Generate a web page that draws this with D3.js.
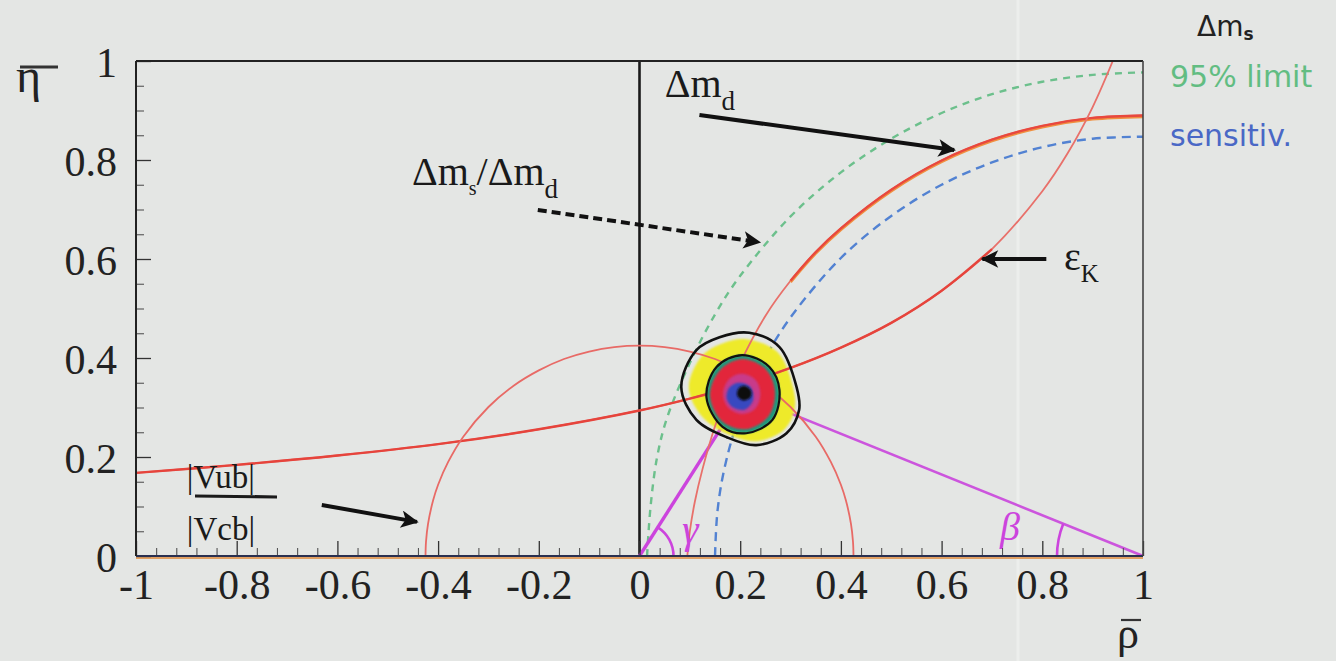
<!DOCTYPE html>
<html><head><meta charset="utf-8">
<script src="https://cdn.jsdelivr.net/npm/d3@7"></script>
<style>
html,body{margin:0;padding:0;background:#e4e6e4;}
svg{display:block;}
</style></head><body>
<svg id="chart" width="1336" height="661"></svg>
<script>
// ---------------- data (rho-bar, eta-bar) ----------------
const xTickValues = [-1, -0.8, -0.6, -0.4, -0.2, 0, 0.2, 0.4, 0.6, 0.8, 1];
const xTickLabels = ["-1", "-0.8", "-0.6", "-0.4", "-0.2", "0", "0.2", "0.4", "0.6", "0.8", "1"];
const yTickValues = [0, 0.2, 0.4, 0.6, 0.8, 1];
const yTickLabels = ["0", "0.2", "0.4", "0.6", "0.8", "1"];

// |Vub|/|Vcb| constraint: circle about the origin
const vubVcb = [[-0.425,0],[-0.424,0.029],[-0.42,0.065],[-0.41,0.112],[-0.40,0.144],[-0.38,0.190],
  [-0.35,0.241],[-0.30,0.301],[-0.25,0.344],[-0.20,0.375],[-0.15,0.398],[-0.10,0.413],[-0.05,0.422],
  [0,0.425],[0.05,0.422],[0.10,0.413],[0.15,0.398],[0.20,0.375],[0.25,0.344],[0.30,0.301],[0.35,0.241],
  [0.38,0.190],[0.40,0.144],[0.41,0.112],[0.42,0.065],[0.424,0.029],[0.425,0]];

// Delta m_d constraint: circle about (1,0)
const deltaMd = [[0.095,0],[0.10,0.05],[0.11,0.11],[0.125,0.175],[0.15,0.262],[0.175,0.33],[0.20,0.39],
  [0.25,0.485],[0.30,0.556],[0.35,0.614],[0.40,0.662],[0.50,0.740],[0.60,0.799],[0.70,0.841],
  [0.80,0.869],[0.90,0.885],[1.00,0.89]];

// epsilon_K constraint: hyperbola
const epsilonK = [[-1,0.168],[-0.8,0.184],[-0.6,0.203],[-0.4,0.226],[-0.2,0.256],[0,0.294],[0.1,0.318],
  [0.2,0.346],[0.3,0.380],[0.4,0.421],[0.5,0.471],[0.6,0.536],[0.7,0.620],[0.8,0.737],[0.85,0.813],
  [0.9,0.907],[0.94,1.0]];

// Delta m_s / Delta m_d : 95% limit and sensitivity
const deltaMsLimit = [[0.015,0],[0.022,0.10],[0.035,0.20],[0.055,0.28],[0.10,0.39],[0.15,0.488],
  [0.20,0.566],[0.30,0.686],[0.40,0.775],[0.50,0.843],[0.60,0.895],[0.70,0.933],[0.80,0.958],
  [0.90,0.972],[1.00,0.977]];
const deltaMsSensitivity = [[0.15,0],[0.155,0.092],[0.17,0.183],[0.20,0.287],[0.25,0.400],[0.30,0.482],
  [0.40,0.602],[0.50,0.687],[0.60,0.750],[0.70,0.795],[0.80,0.826],[0.90,0.843],[1.00,0.847]];

// unitarity triangle
const triangle = [[0,0],[0.205,0.327],[1,0]];

// probability contours of the fit (outer and inner)
const contourOuter = [[0.218,0.451],[0.278,0.422],[0.312,0.341],[0.317,0.295],[0.292,0.248],[0.232,0.224],
  [0.173,0.240],[0.113,0.275],[0.083,0.341],[0.113,0.416],[0.159,0.442]];
const contourInner = [[0.204,0.406],[0.258,0.382],[0.278,0.335],[0.264,0.275],[0.212,0.248],[0.165,0.261],
  [0.133,0.321],[0.153,0.382]];

// density levels (outermost to core)
const levelYellow = [[0.212,0.438],[0.274,0.412],[0.305,0.340],[0.308,0.296],[0.286,0.254],[0.232,0.232],
  [0.176,0.246],[0.124,0.282],[0.098,0.340],[0.124,0.404],[0.166,0.430]];
const levelRed = [[0.205,0.398],[0.252,0.376],[0.269,0.332],[0.256,0.282],[0.210,0.256],[0.164,0.272],
  [0.140,0.324],[0.160,0.376]];
const levelMagenta = [[0.202,0.368],[0.230,0.356],[0.240,0.328],[0.230,0.298],[0.204,0.287],[0.177,0.299],
  [0.166,0.327],[0.177,0.356]];
const levelBlue = [[0.196,0.350],[0.220,0.342],[0.226,0.316],[0.210,0.296],[0.186,0.300],[0.173,0.318],
  [0.178,0.340]];
const levelCore = [[0.208,0.344],[0.222,0.334],[0.220,0.320],[0.206,0.314],[0.194,0.324],[0.197,0.339]];

// annotation arrows: [from, to]
const arrowDmd = [[0.119,0.891],[0.625,0.820]];
const arrowRatio = [[-0.202,0.699],[0.238,0.634]];
const arrowEps = [[0.808,0.600],[0.681,0.600]];
const arrowVub = [[-0.631,0.103],[-0.442,0.069]];

// ---------------- drawing ----------------
const svg = d3.select("#chart");
const W = 1336, H = 661;
const x = d3.scaleLinear().domain([-1, 1]).range([136, 1143]);
const y = d3.scaleLinear().domain([0, 1]).range([556, 61]);
const serif = "'Liberation Serif','Times New Roman',serif";
const sans = "'DejaVu Sans',sans-serif";

svg.append("rect").attr("width", W).attr("height", H).attr("fill", "#e4e6e4");
// faint scanner streak
svg.append("line").attr("x1", 1018).attr("x2", 1018).attr("y1", 0).attr("y2", H)
  .attr("stroke", "#eceeec").attr("stroke-width", 3);

const defs = svg.append("defs");
defs.append("clipPath").attr("id", "plotclip").append("rect")
  .attr("x", x(-1)).attr("y", y(1)).attr("width", x(1) - x(-1)).attr("height", y(0) - y(1));
defs.append("marker").attr("id", "head").attr("viewBox", "0 0 10 10")
  .attr("refX", 9).attr("refY", 5).attr("markerWidth", 5.5).attr("markerHeight", 4.4)
  .attr("orient", "auto").append("path").attr("d", "M0,0 L10,5 L0,10 L2.5,5 z").attr("fill", "#111");
const soft = defs.append("filter").attr("id", "soft");
soft.append("feGaussianBlur").attr("stdDeviation", 1.3);

const line = d3.line().x(d => x(d[0])).y(d => y(d[1])).curve(d3.curveCatmullRom.alpha(0.5));
const closed = d3.line().x(d => x(d[0])).y(d => y(d[1])).curve(d3.curveCatmullRomClosed.alpha(0.5));

const plot = svg.append("g").attr("clip-path", "url(#plotclip)");

// rho = 0 line
plot.append("line").attr("x1", x(0)).attr("x2", x(0)).attr("y1", y(0)).attr("y2", y(1))
  .attr("stroke", "#1a1a1a").attr("stroke-width", 2.6);

// dashed Delta m_s curves
plot.append("path").datum(deltaMsLimit).attr("d", line).attr("fill", "none")
  .attr("stroke", "#6cc08c").attr("stroke-width", 2.4).attr("stroke-dasharray", "7,6");
plot.append("path").datum(deltaMsSensitivity).attr("d", line).attr("fill", "none")
  .attr("stroke", "#5282d2").attr("stroke-width", 2.4).attr("stroke-dasharray", "9,6");

// unitarity triangle sides
plot.append("line").attr("x1", x(triangle[0][0])).attr("y1", y(triangle[0][1]))
  .attr("x2", x(triangle[1][0])).attr("y2", y(triangle[1][1]))
  .attr("stroke", "#cc44dd").attr("stroke-width", 3.4);
plot.append("line").attr("x1", x(triangle[1][0])).attr("y1", y(triangle[1][1]))
  .attr("x2", x(triangle[2][0])).attr("y2", y(triangle[2][1]))
  .attr("stroke", "#cc55dd").attr("stroke-width", 2.6);

// yellow outer level
plot.append("path").datum(levelYellow).attr("d", closed).attr("fill", "#eeea2a").attr("filter", "url(#soft)");

// red constraint curves: thin full curves, heavier where the band is drawn bold
plot.append("path").datum(deltaMd).attr("d", line).attr("fill", "none")
  .attr("stroke", "#e8706a").attr("stroke-width", 1.8);
const dmdBold = deltaMd.filter(d => d[0] >= 0.3);
plot.append("path").datum(dmdBold).attr("d", line).attr("fill", "none")
  .attr("stroke", "#f09040").attr("stroke-width", 3).attr("transform", "translate(0,1.2)");
plot.append("path").datum(dmdBold).attr("d", line).attr("fill", "none")
  .attr("stroke", "#e8483e").attr("stroke-width", 2.4);
plot.append("path").datum(epsilonK).attr("d", line).attr("fill", "none")
  .attr("stroke", "#e8706a").attr("stroke-width", 1.8);
plot.append("path").datum(epsilonK.filter(d => d[0] <= 0.7)).attr("d", line).attr("fill", "none")
  .attr("stroke", "#e6443c").attr("stroke-width", 2.4);
plot.append("path").datum(vubVcb).attr("d", line).attr("fill", "none")
  .attr("stroke", "#e86a66").attr("stroke-width", 1.8);

// inner density levels
plot.append("path").datum(contourInner).attr("d", closed).attr("fill", "#1f9a7e").attr("filter", "url(#soft)");
plot.append("path").datum(levelRed).attr("d", closed).attr("fill", "#e2283a").attr("filter", "url(#soft)");
plot.append("path").datum(levelMagenta).attr("d", closed).attr("fill", "#c83a8a").attr("filter", "url(#soft)");
plot.append("path").datum(levelBlue).attr("d", closed).attr("fill", "#3848c0").attr("filter", "url(#soft)");
plot.append("path").datum(levelCore).attr("d", closed).attr("fill", "#111").attr("filter", "url(#soft)");

// contour lines
plot.append("path").datum(contourOuter).attr("d", closed).attr("fill", "none")
  .attr("stroke", "#111").attr("stroke-width", 2.6);
plot.append("path").datum(contourInner).attr("d", closed).attr("fill", "none")
  .attr("stroke", "#111").attr("stroke-width", 2.2);

// angle marks gamma and beta
const ox = x(triangle[0][0]), oy = y(triangle[0][1]);
const gammaAng = Math.atan2(oy - y(triangle[1][1]), x(triangle[1][0]) - ox);
svg.append("path").attr("transform", `translate(${ox},${oy})`)
  .attr("d", d3.arc()({innerRadius: 34, outerRadius: 34, startAngle: Math.PI / 2 - gammaAng, endAngle: Math.PI / 2}))
  .attr("fill", "none").attr("stroke", "#cc44dd").attr("stroke-width", 2.6);
const bx = x(triangle[2][0]), by = y(triangle[2][1]);
const betaAng = Math.atan2(by - y(triangle[1][1]), bx - x(triangle[1][0]));
svg.append("path").attr("transform", `translate(${bx},${by})`)
  .attr("d", d3.arc()({innerRadius: 86, outerRadius: 86, startAngle: -Math.PI / 2, endAngle: -Math.PI / 2 + betaAng}))
  .attr("fill", "none").attr("stroke", "#cc44dd").attr("stroke-width", 2.6);
svg.append("text").attr("x", 682).attr("y", 543).attr("font-family", serif).attr("font-style", "italic")
  .attr("font-size", 42).attr("fill", "#cc44dd").text("γ");
svg.append("text").attr("x", 1000).attr("y", 540).attr("font-family", serif).attr("font-style", "italic")
  .attr("font-size", 40).attr("fill", "#cc44dd").text("β");

// axis base line along eta = 0
svg.append("line").attr("x1", x(-1)).attr("x2", x(1)).attr("y1", y(0) + 2).attr("y2", y(0) + 2)
  .attr("stroke", "#e08838").attr("stroke-width", 1.6);

// axes
const xMinor = d3.range(-1, 1.0001, 0.04).filter(v => Math.abs(v * 5 - Math.round(v * 5)) > 1e-6);
const yMinor = d3.range(0, 1.0001, 0.05).filter(v => Math.abs(v * 5 - Math.round(v * 5)) > 1e-6);

const gx = svg.append("g").attr("transform", `translate(0,${y(0)})`)
  .call(d3.axisBottom(x).tickValues(xTickValues).tickSize(-15).tickPadding(13)
    .tickFormat((d, i) => xTickLabels[i]));
gx.select(".domain").remove();
gx.selectAll("text").attr("font-family", serif).attr("font-size", 42).attr("fill", "#222");
gx.selectAll("line").attr("stroke", "#333").attr("stroke-width", 1.3);
const gxm = svg.append("g").attr("transform", `translate(0,${y(0)})`)
  .call(d3.axisBottom(x).tickValues(xMinor).tickSize(-8).tickFormat(""));
gxm.select(".domain").remove();
gxm.selectAll("line").attr("stroke", "#555").attr("stroke-width", 1.1);

const gy = svg.append("g").attr("transform", `translate(${x(-1)},0)`)
  .call(d3.axisLeft(y).tickValues(yTickValues).tickSize(-15).tickPadding(19)
    .tickFormat((d, i) => yTickLabels[i]));
gy.select(".domain").remove();
gy.selectAll("text").attr("font-family", serif).attr("font-size", 42).attr("fill", "#222").attr("dy", "0.36em");
gy.selectAll("line").attr("stroke", "#333").attr("stroke-width", 1.3);
const gym = svg.append("g").attr("transform", `translate(${x(-1)},0)`)
  .call(d3.axisLeft(y).tickValues(yMinor).tickSize(-8).tickFormat(""));
gym.select(".domain").remove();
gym.selectAll("line").attr("stroke", "#555").attr("stroke-width", 1.1);

// frame
svg.append("line").attr("x1", x(-1)).attr("x2", x(1)).attr("y1", y(1)).attr("y2", y(1))
  .attr("stroke", "#222").attr("stroke-width", 2.2);
svg.append("line").attr("x1", x(-1)).attr("x2", x(1)).attr("y1", y(0)).attr("y2", y(0))
  .attr("stroke", "#2a3050").attr("stroke-width", 2);
svg.append("line").attr("x1", x(-1)).attr("x2", x(-1)).attr("y1", y(0)).attr("y2", y(1))
  .attr("stroke", "#222").attr("stroke-width", 2);
svg.append("line").attr("x1", x(1)).attr("x2", x(1)).attr("y1", y(0)).attr("y2", y(1))
  .attr("stroke", "#444").attr("stroke-width", 1.6);

// axis titles (with bars)
svg.append("text").attr("x", 16).attr("y", 92).attr("font-family", serif).attr("font-size", 48)
  .attr("fill", "#222").text("η");
svg.append("line").attr("x1", 20).attr("x2", 58).attr("y1", 67).attr("y2", 67)
  .attr("stroke", "#333").attr("stroke-width", 3);
svg.append("text").attr("x", 1117).attr("y", 648).attr("font-family", serif).attr("font-size", 44)
  .attr("fill", "#222").text("ρ");
svg.append("line").attr("x1", 1121).attr("x2", 1141).attr("y1", 620).attr("y2", 620)
  .attr("stroke", "#333").attr("stroke-width", 2.2);

// arrows
function arrow(pts, dashed) {
  svg.append("line").attr("x1", x(pts[0][0])).attr("y1", y(pts[0][1]))
    .attr("x2", x(pts[1][0])).attr("y2", y(pts[1][1]))
    .attr("stroke", "#111").attr("stroke-width", 4)
    .attr("stroke-dasharray", dashed ? "9,5" : null)
    .attr("marker-end", "url(#head)");
}
arrow(arrowDmd, false);
arrow(arrowRatio, true);
arrow(arrowEps, false);
arrow(arrowVub, false);

// labels
const tDmd = svg.append("text").attr("x", x(0.05)).attr("y", y(0.927))
  .attr("font-family", serif).attr("font-size", 40).attr("fill", "#1a1a1a");
tDmd.append("tspan").text("Δm");
tDmd.append("tspan").attr("font-size", 27).attr("dy", 13).text("d");

const tRatio = svg.append("text").attr("x", x(-0.452)).attr("y", y(0.749))
  .attr("font-family", serif).attr("font-size", 40).attr("fill", "#1a1a1a");
tRatio.append("tspan").text("Δm");
tRatio.append("tspan").attr("font-size", 20).attr("dy", 10).text("s");
tRatio.append("tspan").attr("dy", -10).text("/Δm");
tRatio.append("tspan").attr("font-size", 27).attr("dy", 13).text("d");

const tEps = svg.append("text").attr("x", x(0.843)).attr("y", y(0.578))
  .attr("font-family", serif).attr("font-size", 40).attr("fill", "#1a1a1a");
tEps.append("tspan").text("ε");
tEps.append("tspan").attr("font-size", 25).attr("dy", 12).text("K");

svg.append("text").attr("x", x(-0.899)).attr("y", 488).attr("font-family", serif)
  .attr("font-size", 33).attr("fill", "#1a1a1a").text("|Vub|");
svg.append("line").attr("x1", 195).attr("x2", 277).attr("y1", 496).attr("y2", 497)
  .attr("stroke", "#1a1a1a").attr("stroke-width", 3.2);
svg.append("text").attr("x", x(-0.899)).attr("y", 540).attr("font-family", serif)
  .attr("font-size", 33).attr("fill", "#1a1a1a").text("|Vcb|");

// side legend for Delta m_s
const tDms = svg.append("text").attr("x", 1197).attr("y", 36).attr("font-family", sans)
  .attr("font-size", 28).attr("fill", "#222");
tDms.append("tspan").text("Δm");
tDms.append("tspan").attr("font-size", 17).attr("font-weight", "bold").attr("dy", 4).text("s");
svg.append("text").attr("x", 1170).attr("y", 87).attr("font-family", sans)
  .attr("font-size", 30).attr("fill", "#62bd82").text("95% limit");
svg.append("text").attr("x", 1170).attr("y", 146).attr("font-family", sans)
  .attr("font-size", 30).attr("fill", "#4a68c6").text("sensitiv.");
</script>
</body></html>
